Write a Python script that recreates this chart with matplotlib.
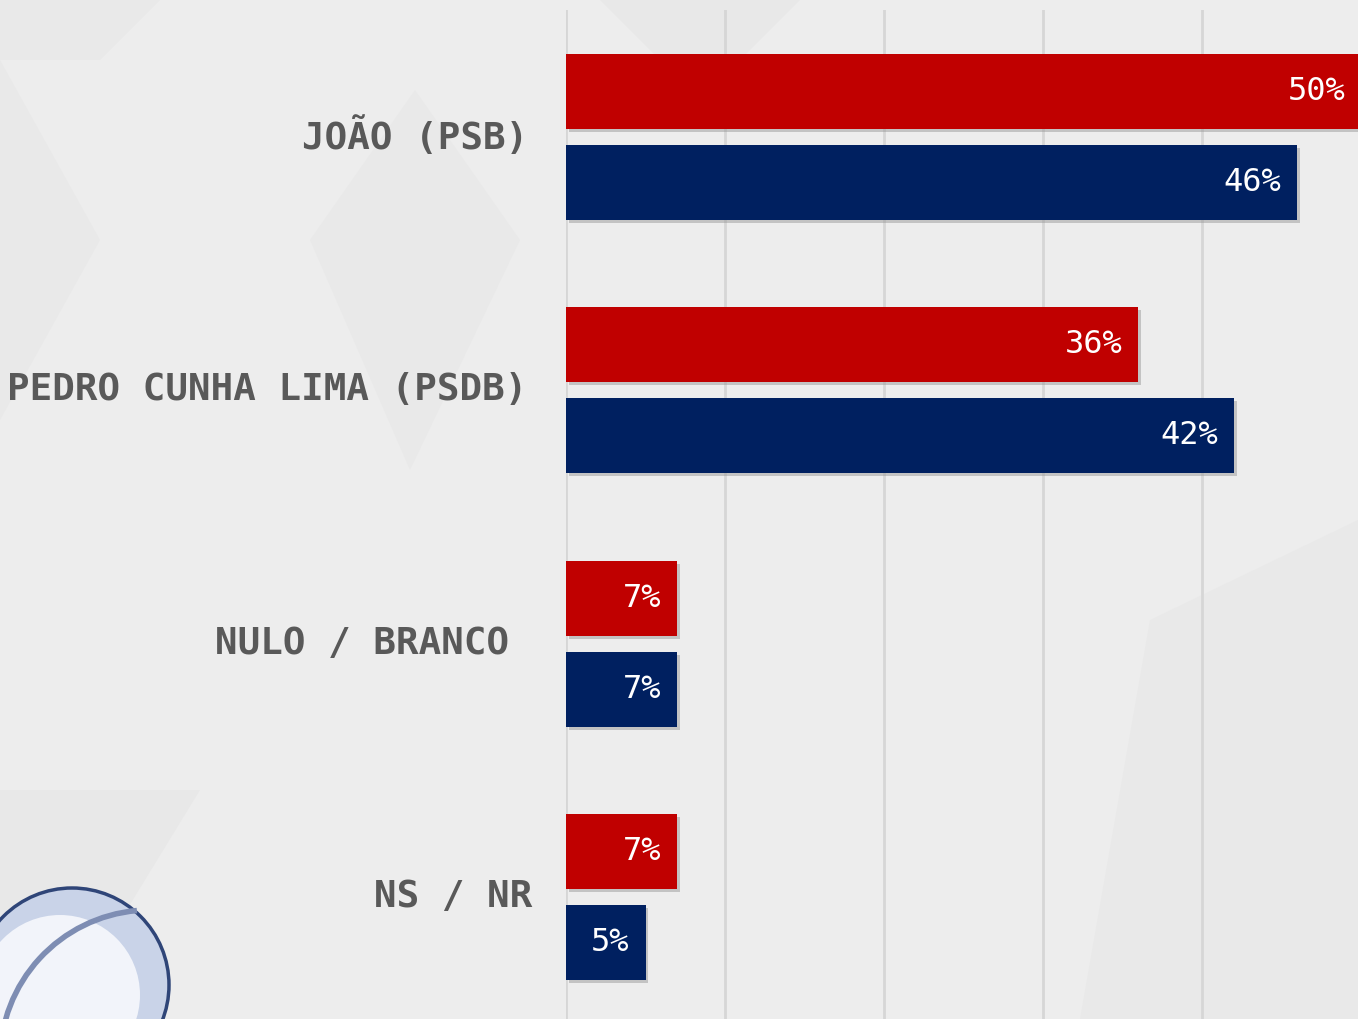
import matplotlib
matplotlib.use("Agg")
import matplotlib.pyplot as plt
import matplotlib.patheffects as pe
from matplotlib.patches import Circle, Polygon, Arc
import numpy as np

# data
categories = ["JOÃO (PSB)", "PEDRO CUNHA LIMA (PSDB)", "NULO / BRANCO", "NS / NR"]
red_values = [50, 36, 7, 7]
blue_values = [46, 42, 7, 5]

RED = "#C00000"
NAVY = "#002060"
BG = "#EDEDED"
GREY = "#595959"

fig = plt.figure(figsize=(13.58, 10.19), dpi=100, facecolor=BG)

# faint background triangles
bg = fig.add_axes([0, 0, 1, 1], zorder=0)
bg.set_xlim(0, 1358)
bg.set_ylim(1019, 0)
bg.axis("off")
shapes = [
    ([(0, 60), (100, 240), (0, 420)], "#E9E9E9"),
    ([(0, 0), (160, 0), (100, 60), (0, 60)], "#E9E9E9"),
    ([(310, 240), (415, 90), (520, 240), (410, 470)], "#E9E9E9"),
    ([(0, 790), (200, 790), (60, 1019), (0, 1019)], "#E8E8E8"),
    ([(1150, 620), (1358, 520), (1358, 1019), (1080, 1019)], "#E9E9E9"),
    ([(600, 0), (800, 0), (700, 100)], "#E8E8E8"),
]
for s, c in shapes:
    bg.add_patch(Polygon(s, closed=True, facecolor=c, edgecolor="none"))

# logo in the bottom-left corner
bg.add_patch(Circle((72, 985), 97, facecolor="#C9D3E8", edgecolor="#2F4578", lw=2.5))
bg.add_patch(Circle((60, 995), 80, facecolor="#F2F4FA", edgecolor="none"))
bg.add_patch(Arc((150, 1060), 300, 300, theta1=180, theta2=265,
                 color="#7E8DB3", lw=4))

ax = fig.add_axes([566 / 1358, 0, 795 / 1358, 1 - 10 / 1019], zorder=1)
ax.set_facecolor("none")

y = np.arange(len(categories))
off = 0.1795
h = 0.296
shadow = [pe.SimplePatchShadow(offset=(2, -2), shadow_rgbFace="#9A9A9A", alpha=0.5), pe.Normal()]

bars_r = ax.barh(y - off, red_values, height=h, color=RED, zorder=3)
bars_b = ax.barh(y + off, blue_values, height=h, color=NAVY, zorder=3)
for b in list(bars_r) + list(bars_b):
    b.set_path_effects(shadow)

for bars, vals in ((bars_r, red_values), (bars_b, blue_values)):
    for b, v in zip(bars, vals):
        ax.text(v - 1.0, b.get_y() + b.get_height() / 2, f"{v}%",
                ha="right", va="center", color="white",
                family="DejaVu Sans Mono", fontsize=23, zorder=4)

ax.set_xlim(0, 50)
ax.set_ylim(3.48, -0.50)
ax.set_xticks(range(0, 51, 10))
ax.grid(axis="x", color="#D6D6D6", lw=2, zorder=0)
ax.tick_params(left=False, bottom=False, labelbottom=False, labelleft=False)
for s in ax.spines.values():
    s.set_visible(False)

# category labels, right-aligned to the left of the bars
label_right = [-2.4, -2.4, -3.6, -2.1]
for yi, cat, xr in zip(y, categories, label_right):
    ax.text(xr, yi, cat, ha="right", va="center", family="DejaVu Sans Mono",
            fontweight="bold", fontsize=27, color=GREY, clip_on=False)

fig.savefig("out.png", dpi=100, facecolor=BG)
